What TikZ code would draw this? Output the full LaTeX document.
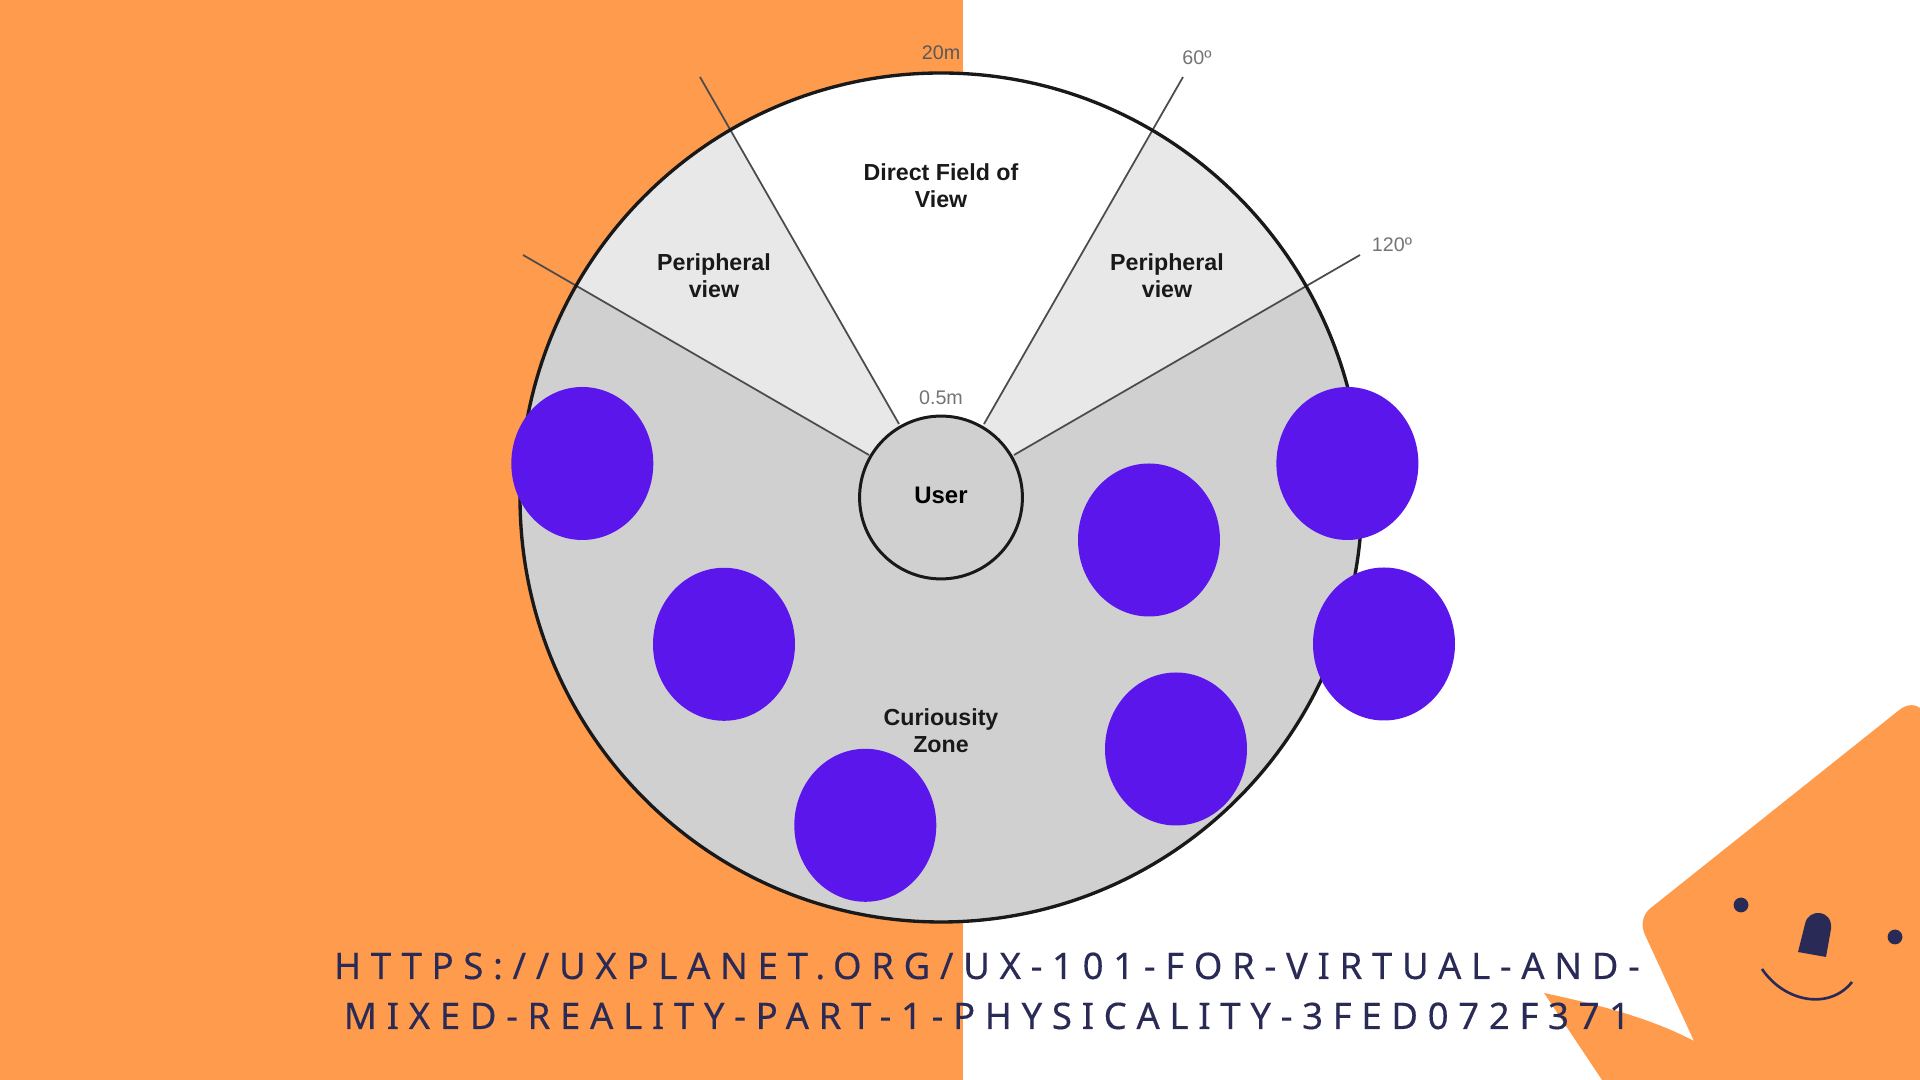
\documentclass[tikz,border=0pt]{standalone}
\usepackage{fontspec}
\setmainfont{Liberation Sans}
\newfontfamily\urlfont[LetterSpace=26.4,FakeBold=0.25]{Noto Sans}
\definecolor{orangeBg}{HTML}{FF9B4C}
\definecolor{blob}{HTML}{5B17EB}
\definecolor{navy}{HTML}{2A2A57}
\definecolor{zoneDark}{HTML}{D0D0D0}
\definecolor{zoneLight}{HTML}{E8E8E8}
\definecolor{tickGray}{HTML}{747474}
\tikzset{
  blobshape/.style={fill=blob,draw=none},
  ray/.style={draw=black!70,line width=0.5pt},
  zonelabel/.style={font=\fontsize{6.6pt}{7.7pt}\selectfont\bfseries,align=center,inner sep=0pt,text=black!90},
  tick/.style={font=\fontsize{5.6pt}{6.5pt}\selectfont,inner sep=0pt,text=tickGray},
  urlline/.style={font=\fontsize{10.4pt}{12pt}\urlfont,text=navy,inner sep=0pt,anchor=base}
}
\begin{document}
\begin{tikzpicture}[x=0.01cm,y=-0.01cm]
\useasboundingbox (0,0) rectangle (1920,1080);
\fill[white] (0,0) rectangle (1920,1080);
\fill[orangeBg] (0,0) rectangle (962.5,1080);
% mascot
\fill[orangeBg] (1920,708) .. controls (1913,703) and (1905,705) .. (1898,711) -- (1652,907)
  .. controls (1642,914) and (1640,926) .. (1646,937) -- (1694,1041)
  .. controls (1650,1018) and (1600,1005) .. (1544,993) -- (1602,1080) -- (1920,1080) -- cycle;
\fill[navy] (1741,905) circle[radius=7.4];
\fill[navy] (1895,937) circle[radius=7.4];
\fill[navy] (1798,952) -- (1805,924) .. controls (1808,908) and (1833,909) .. (1831,929) -- (1826,957) -- cycle;
\draw[navy,line width=0.75pt] (1762,969) .. controls (1785,1003) and (1830,1010) .. (1852,982);
% zones
\begin{scope}
\clip (941,497) ellipse [x radius=421, y radius=424];
\fill[zoneDark] (500,50) rectangle (1400,950);
\fill[zoneLight] (941,497) -- (576,285) -- (500,50) -- (1400,50) -- (1307,285) -- cycle;
\fill[white] (941,497) -- (730,129) -- (700,50) -- (1183,50) -- (1153,129) -- cycle;
\end{scope}
\coordinate (innerA) at (869,455);
\coordinate (outerA) at (523,255);
\coordinate (innerB) at (899,424);
\coordinate (outerB) at (700,77);
\coordinate (innerC) at (984,424);
\coordinate (outerC) at (1183,77);
\coordinate (innerD) at (1014,455);
\coordinate (outerD) at (1360,255);
\draw[ray] (innerA) -- (outerA);
\draw[ray] (innerB) -- (outerB);
\draw[ray] (innerC) -- (outerC);
\draw[ray] (innerD) -- (outerD);
\draw[black!90,line width=0.95pt] (941,497.5) ellipse [x radius=421, y radius=424.5];
\node[circle,draw=black!90,line width=0.85pt,fill=zoneDark,minimum size=46.5mm*0.35,inner sep=0pt,font=\fontsize{6.8pt}{8pt}\selectfont\bfseries] (user) at (941,497.5) {\raisebox{1.2pt}{User}};
% labels
\node[zonelabel] (direct) at (941,185.5) {Direct Field of\\View};
\node[zonelabel] (periL) at (714,275.5) {Peripheral\\view};
\node[zonelabel] (periR) at (1167,275.5) {Peripheral\\view};
\node[zonelabel] (curio) at (941,730.5) {Curiousity\\Zone};
\node[tick,text=black!65] (t20) at (941,53) {20m};
\node[tick] (t60) at (1197,57.5) {60º};
\node[tick] (t120) at (1392,244.5) {120º};
\node[tick] (t05) at (941,397.5) {0.5m};
% blobs
\fill[blobshape] (582.3,463.5) ellipse [x radius=71, y radius=76.5];
\fill[blobshape] (724,644.3) ellipse [x radius=71, y radius=76.5];
\fill[blobshape] (865.3,825.3) ellipse [x radius=71, y radius=76.5];
\fill[blobshape] (1149,540) ellipse [x radius=71, y radius=76.5];
\fill[blobshape] (1347.4,463.5) ellipse [x radius=71, y radius=76.5];
\fill[blobshape] (1384,644) ellipse [x radius=71, y radius=76.5];
\fill[blobshape] (1176,749) ellipse [x radius=71, y radius=76.5];
% url
\node[urlline] (url1) at (987,979) {HTTPS://UXPLANET.ORG/UX-101-FOR-VIRTUAL-AND-};
\node[urlline] (url2) at (987,1029) {MIXED-REALITY-PART-1-PHYSICALITY-3FED072F371};
\end{tikzpicture}
\end{document}
